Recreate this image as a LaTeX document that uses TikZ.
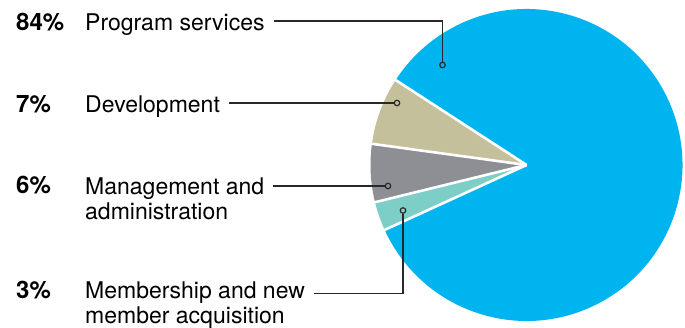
\documentclass[tikz,border=0pt]{standalone}
\usepackage{fontspec}
\setmainfont{TeX Gyre Heros}
\definecolor{programblue}{RGB}{0,181,239}
\definecolor{developtan}{RGB}{197,192,156}
\definecolor{managegray}{RGB}{142,143,148}
\definecolor{memberteal}{RGB}{126,206,200}
\definecolor{leaderink}{RGB}{40,40,40}
\tikzstyle{percent}=[font=\fontsize{24}{26}\selectfont\bfseries, inner sep=0, anchor=base west]
\tikzstyle{category}=[font=\fontsize{23}{26}\selectfont, inner xsep=9pt, inner ysep=0, anchor=west, text height=19pt, text depth=0pt]
\tikzstyle{category two}=[font=\fontsize{23}{25}\selectfont, inner xsep=9pt, inner ysep=0, anchor=north west, align=left]
\tikzstyle{leader}=[leaderink, line width=1.2pt]
\tikzstyle{marker}=[circle, draw=leaderink, line width=1.2pt, inner sep=0, minimum size=5.5pt]
\tikzstyle{separator}=[white, line width=2.6pt]

\begin{document}
\begin{tikzpicture}[x=1pt, y=1pt]
      \useasboundingbox (0, 0) rectangle (685, 328);
      \coordinate (c) at (526.5, 163);

      \fill[programblue] (c) -- ++(204.6:156) arc[start angle=204.6, end angle=507, radius=156] -- cycle;
      \fill[developtan] (c) -- ++(147:156) arc[start angle=147, end angle=172.2, radius=156] -- cycle;
      \fill[managegray] (c) -- ++(172.2:156) arc[start angle=172.2, end angle=193.8, radius=156] -- cycle;
      \fill[memberteal] (c) -- ++(193.8:156) arc[start angle=193.8, end angle=204.6, radius=156] -- cycle;
      \foreach \a in {147, 172.2, 193.8, 204.6}
        \draw[separator] (c) -- ++(\a:158);

      \node[percent] (ps-pct) at (16, 297.5) {84\%};
      \node[percent] (dv-pct) at (16, 215.5) {7\%};
      \node[percent] (mg-pct) at (16, 134) {6\%};
      \node[percent] (mb-pct) at (16, 29.5) {3\%};

      \node[category] (ps) at (76, 307) {Program services};
      \node[category] (dv) at (76, 225) {Development};
      \node[category two] (mg) at (76, 150.8) {Management and\\administration};
      \node[category two] (mb) at (76, 46.5) {Membership and new\\member acquisition};

      \node[marker] (ps-dot) at (442.5, 263) {};
      \node[marker] (dv-dot) at (397, 225) {};
      \node[marker] (mg-dot) at (388, 142) {};
      \node[marker] (mb-dot) at (403, 117.5) {};
      \coordinate (mb-bend) at (403, 34.7);

      \draw[leader] (ps.east) -| (ps-dot);
      \draw[leader] (dv.east) -- (dv-dot);
      \draw[leader] (mg.east |- mg-dot) -- (mg-dot);
      \draw[leader] (mb.east |- mb-bend) -- (mb-bend) -- (mb-dot);
    \end{tikzpicture}
\end{document}
